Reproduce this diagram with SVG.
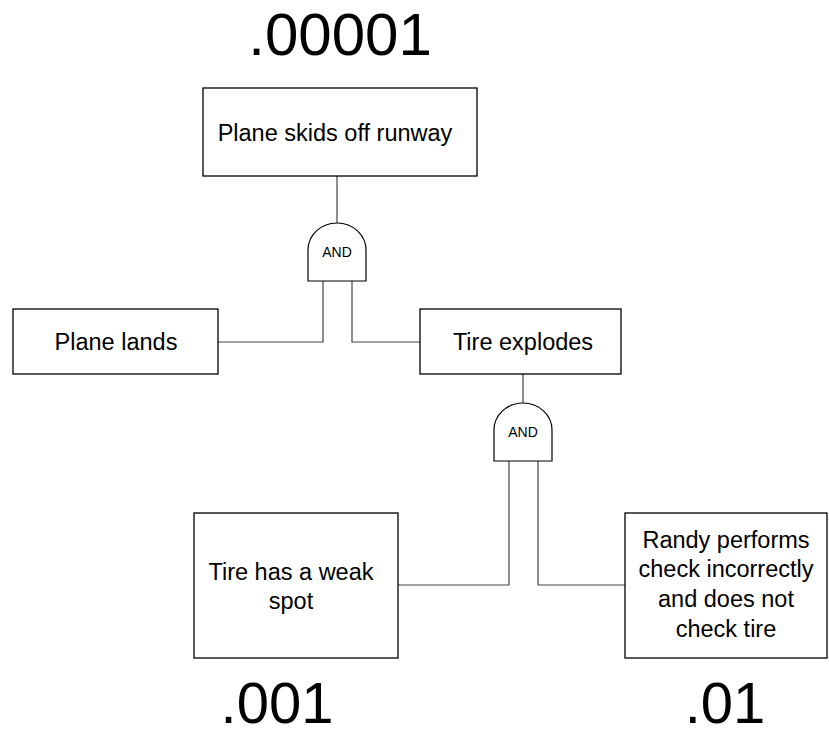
<svg xmlns="http://www.w3.org/2000/svg" width="829" height="736" viewBox="0 0 829 736">
<style>
.box{fill:#fff;stroke:#000;stroke-width:1.3}
.gate{fill:#fff;stroke:#000;stroke-width:1.2}
.conn{fill:none;stroke:#444;stroke-width:1.2}
.t{font-family:"Liberation Sans",Arial,sans-serif;font-size:23.5px;fill:#000;text-anchor:middle}
.g{font-family:"Liberation Sans",Arial,sans-serif;font-size:14px;fill:#000;text-anchor:middle}
.p{font-family:"Liberation Sans",Arial,sans-serif;font-size:60px;fill:#000;text-anchor:middle}
.pb{font-family:"Liberation Sans",Arial,sans-serif;font-size:58px;fill:#000;text-anchor:middle}
</style>
<rect width="829" height="736" fill="#fff"/>
<g id="connectors">
<line class="conn" x1="337" y1="176" x2="337" y2="223"/>
<polyline class="conn" points="323,281 323,342 218,342"/>
<polyline class="conn" points="352,281 352,342 420,342"/>
<line class="conn" x1="523" y1="374" x2="523" y2="403"/>
<polyline class="conn" points="509,461 509,585 398,585"/>
<polyline class="conn" points="538,461 538,585 625,585"/>
</g>
<g id="top">
<rect class="box" x="203" y="88" width="274" height="88"/>
<text class="t" x="335" y="141">Plane skids off runway</text>
</g>
<g id="gate1">
<path class="gate" d="M308,281 L308,250 A29,27 0 0 1 366,250 L366,281 Z"/>
<text class="g" x="337" y="257">AND</text>
</g>
<g id="lands">
<rect class="box" x="13" y="309" width="205" height="65"/>
<text class="t" x="116" y="350">Plane lands</text>
</g>
<g id="explodes">
<rect class="box" x="420" y="309" width="201" height="65"/>
<text class="t" x="523" y="350">Tire explodes</text>
</g>
<g id="gate2">
<path class="gate" d="M494,461 L494,430 A29,27 0 0 1 552,430 L552,461 Z"/>
<text class="g" x="523" y="437">AND</text>
</g>
<g id="weak">
<rect class="box" x="194" y="513" width="204" height="145"/>
<text class="t" x="291" y="580">Tire has a weak</text>
<text class="t" x="291" y="609">spot</text>
</g>
<g id="randy">
<rect class="box" x="625" y="513" width="202" height="145"/>
<text class="t" x="726" y="548">Randy performs</text>
<text class="t" x="726" y="577">check incorrectly</text>
<text class="t" x="726" y="607">and does not</text>
<text class="t" x="726" y="637">check tire</text>
</g>
<g id="probs">
<text class="p" x="340" y="55">.00001</text>
<text class="pb" x="277" y="723">.001</text>
<text class="pb" x="725" y="723">.01</text>
</g>
</svg>
